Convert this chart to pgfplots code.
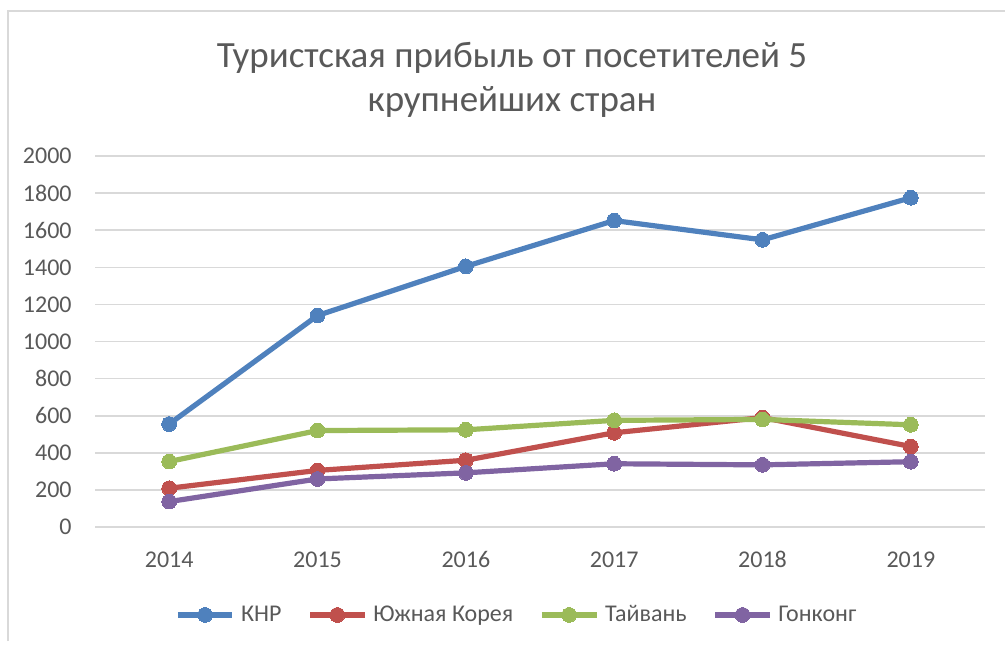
\documentclass[border=0pt]{standalone}
\usepackage{fontspec}
\setmainfont{Carlito}
\usepackage{pgfplots}
\pgfplotsset{compat=1.18}
\definecolor{cblue}{HTML}{4F81BD}
\definecolor{cred}{HTML}{C0504D}
\definecolor{cgreen}{HTML}{9BBB59}
\definecolor{cpurple}{HTML}{8064A2}
\definecolor{txt}{HTML}{595959}
\definecolor{grd}{HTML}{D9D9D9}

\begin{document}
\begin{tikzpicture}[x=0.5pt,y=0.5pt]
\useasboundingbox (0,0) rectangle (1005,645);
\draw[grd, line width=0.8pt] (8,4) -- (8,634) -- (1010,634);
\node[text=txt, font=\fontsize{18.5}{22}\selectfont, align=center] at (512,565) {Туристская прибыль от посетителей 5\\крупнейших стран};
\begin{axis}[
  at={(47.5pt,59pt)}, anchor=south west,
  scale only axis, width=445pt, height=185.5pt,
  xmin=-0.5, xmax=5.5, ymin=0, ymax=2000,
  xtick={0,...,5}, xticklabels={2014,2015,2016,2017,2018,2019},
  ytick={0,200,...,2000},
  ymajorgrids, grid style={grd, line width=0.8pt},
  axis line style={draw=none}, major tick length=0,
  /pgf/number format/assume math mode=true,
  /pgf/number format/set thousands separator={},
  scaled ticks=false,
  tick label style={font=\fontsize{12}{14}\selectfont, text=txt, inner sep=0pt},
  yticklabel style={anchor=east, xshift=-11.5pt},
  xticklabel style={anchor=base, yshift=-20pt},
  clip=false,
  legend style={at={(0.475,-0.237)}, anchor=center, legend columns=4, draw=none,
    font=\fontsize{12}{14}\selectfont, text=txt, inner sep=0pt,
    /tikz/every odd column/.append style={column sep=1pt},
    /tikz/every even column/.append style={column sep=11pt}},
  legend image code/.code={\draw[mark repeat=2,mark phase=2] plot coordinates {(0cm,0cm)(0.48cm,0cm)(0.96cm,0cm)};},
  every axis plot/.append style={line width=2.6pt, mark=*, mark size=3.7pt},
]
\addplot[cblue, mark options={fill=cblue, draw=cblue, line width=0pt}] coordinates
  {(0,555)(1,1140)(2,1405)(3,1652)(4,1548)(5,1775)};
\addlegendentry{КНР}
\addplot[cred, mark options={fill=cred, draw=cred, line width=0pt}] coordinates
  {(0,209)(1,305)(2,360)(3,508)(4,590)(5,434)};
\addlegendentry{Южная Корея}
\addplot[cgreen, mark options={fill=cgreen, draw=cgreen, line width=0pt}] coordinates
  {(0,353)(1,520)(2,524)(3,575)(4,580)(5,551)};
\addlegendentry{Тайвань}
\addplot[cpurple, mark options={fill=cpurple, draw=cpurple, line width=0pt}] coordinates
  {(0,137)(1,259)(2,292)(3,341)(4,335)(5,352)};
\addlegendentry{Гонконг}
\end{axis}
\end{tikzpicture}
\end{document}
